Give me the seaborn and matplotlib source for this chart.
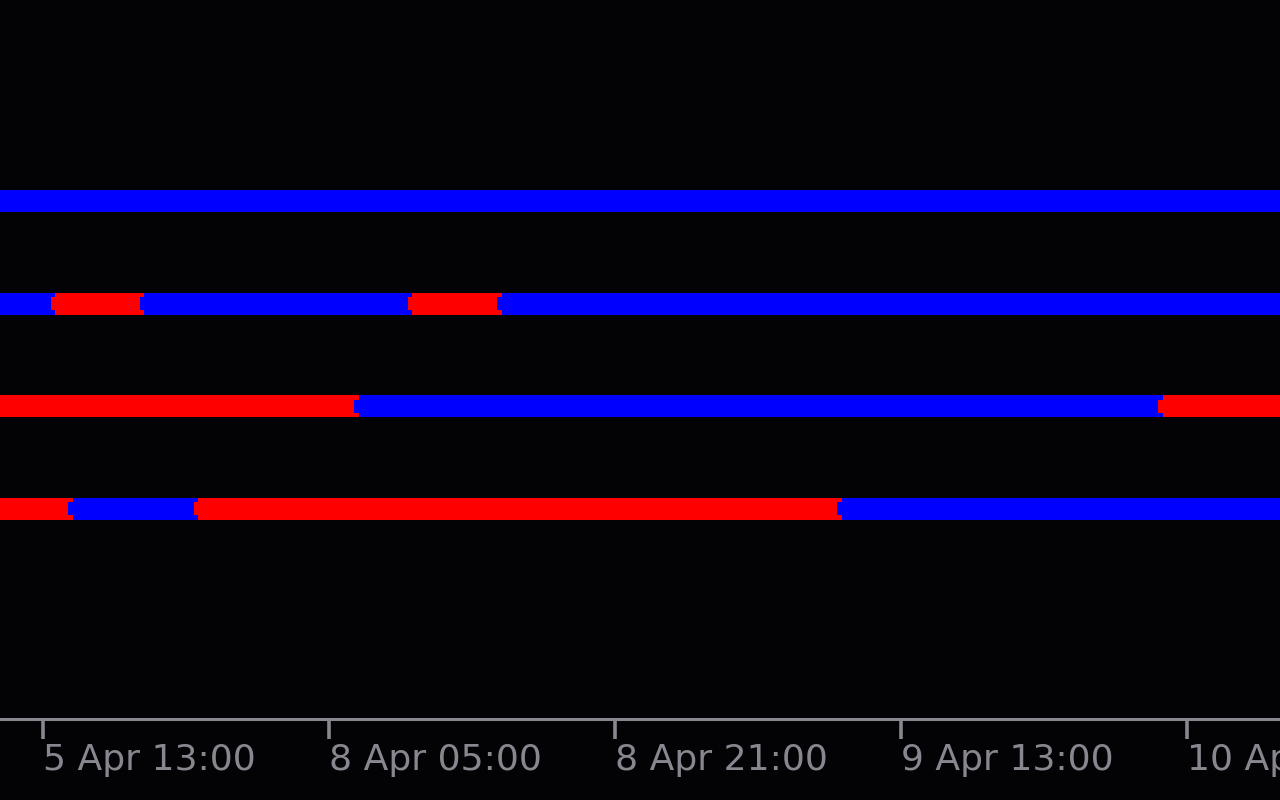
import matplotlib
matplotlib.use('Agg')
import matplotlib.pyplot as plt
import seaborn as sns

# x = trading hours after 5 Apr 13:00 (weekend skipped)
tick_pos = [0, 16, 32, 48, 64]
tick_labels = ['5 Apr 13:00', '8 Apr 05:00', '8 Apr 21:00', '9 Apr 13:00', '10 Apr 05:00']

# each row: where a state starts, and the state
row1_starts = [-3.0]
row1_states = ['up']
row2_starts = [-3.0, 0.67, 5.65, 20.65, 25.65]
row2_states = ['up', 'down', 'up', 'down', 'up']
row3_starts = [-3.0, 17.65, 62.65]
row3_states = ['down', 'up', 'down']
row4_starts = [-3.0, 1.67, 8.67, 44.67]
row4_states = ['down', 'up', 'down', 'up']
end_time = 72.0

rows = [(row1_starts, row1_states), (row2_starts, row2_states),
        (row3_starts, row3_states), (row4_starts, row4_states)]

bg = '#030305'
fg = '#87878f'
colors = {'up': '#0000ff', 'down': '#ff0000'}

sns.set_theme(style='dark', rc={'axes.facecolor': bg, 'figure.facecolor': bg,
                                'axes.edgecolor': fg, 'xtick.color': fg,
                                'text.color': fg})
plt.rcParams['font.family'] = ['DejaVu Sans']

fig = plt.figure(figsize=(12.8, 8), dpi=100)
ax = fig.add_axes([0, 81.5 / 800, 1, 718 / 800])

bar_h = 0.214
notch_h = 0.127
notch_w = 0.25
for i, (starts, states) in enumerate(rows):
    ends = starts[1:] + [end_time]
    for s, e, st in zip(starts, ends, states):
        ax.barh(i, e - s, left=s, height=bar_h, color=colors[st], linewidth=0)
        # little lead-in notch drawn over the previous state
        ax.barh(i, notch_w, left=s - notch_w, height=notch_h, color=colors[st], linewidth=0)

ax.set_xlim(-2.41, 69.2)
ax.set_ylim(5.04, -1.95)
ax.set_yticks([])
ax.set_xticks(tick_pos)
ax.set_xticklabels(tick_labels, ha='left', fontsize=26)
ax.tick_params(axis='x', length=14.4, width=2.6, pad=3.5, bottom=True, color=fg)
ax.grid(False)
for side in ['left', 'right', 'top']:
    ax.spines[side].set_visible(False)
ax.spines['bottom'].set_linewidth(2.2)
ax.spines['bottom'].set_color(fg)

fig.savefig('out.png', dpi=100, facecolor=bg)
